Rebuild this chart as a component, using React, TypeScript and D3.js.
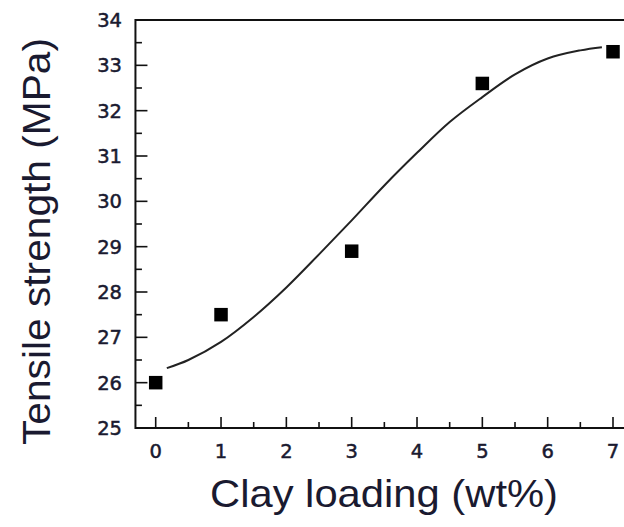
import React from "react";
import * as d3 from "d3";

// Measured tensile strength vs. clay loading
const clayLoading = [0, 1, 3, 5, 7];
const tensileStrength = [26.0, 27.5, 28.9, 32.6, 33.3];

// Fitted sigmoidal trend line
const fitX = [0.17, 0.5, 1, 1.5, 2, 2.5, 3, 3.5, 4, 4.5, 5, 5.5, 6, 6.5, 6.83];
const fitY = [26.32, 26.5, 26.9, 27.45, 28.1, 28.83, 29.58, 30.35, 31.07, 31.75, 32.3, 32.8, 33.15, 33.33, 33.4];

const xTicks = [0, 1, 2, 3, 4, 5, 6, 7];
const yTicks = [25, 26, 27, 28, 29, 30, 31, 32, 33, 34];

const W = 624;
const H = 527;

export default function App() {
  const x = d3.scaleLinear().domain([0, 7]).range([155.7, 613]);
  const y = d3.scaleLinear().domain([25, 34]).range([428, 20]);

  const left = x(-0.31);
  const right = x(7.6);
  const top = y(34);
  const bottom = y(25);

  const xMinor = d3.range(0.5, 7.6, 1);
  const yMinor = d3.range(25.5, 34, 1);

  const line = d3
    .line<number>()
    .x((_, i) => x(fitX[i]))
    .y((d) => y(d))
    .curve(d3.curveCatmullRom.alpha(0.5));

  const sq = 13.5;
  const tickFont = "'DejaVu Sans', sans-serif";
  const titleFont = "'Liberation Sans', Arial, sans-serif";
  const ink = "#111";
  const textInk = "#1a1a30";

  return (
    <svg
      width={W}
      height={H}
      viewBox={`0 0 ${W} ${H}`}
      style={{ position: "absolute", left: 0, top: 0, background: "#fff" }}
    >
      {/* fitted curve */}
      <path d={line(fitY) ?? ""} fill="none" stroke="#222" strokeWidth={2} />

      {/* data markers */}
      {clayLoading.map((c, i) => (
        <rect
          key={c}
          x={x(c) - sq / 2}
          y={y(tensileStrength[i]) - sq / 2}
          width={sq}
          height={sq}
          fill="#000"
        />
      ))}

      {/* frame */}
      <line x1={left} x2={right} y1={top} y2={top} stroke={ink} strokeWidth={2} />
      <line x1={left} x2={right} y1={bottom} y2={bottom} stroke={ink} strokeWidth={2} />
      <line x1={left} x2={left} y1={top - 1} y2={bottom + 1} stroke={ink} strokeWidth={2} />

      {/* x ticks */}
      {xTicks.map((t) => (
        <line key={`xt${t}`} x1={x(t)} x2={x(t)} y1={bottom} y2={bottom - 11} stroke={ink} strokeWidth={1.6} />
      ))}
      {xMinor.map((t) => (
        <line key={`xm${t}`} x1={x(t)} x2={x(t)} y1={bottom} y2={bottom - 6} stroke={ink} strokeWidth={1.6} />
      ))}
      {xTicks.map((t) => (
        <text
          key={`xl${t}`}
          x={x(t)}
          y={458}
          textAnchor="middle"
          fontFamily={tickFont}
          fontSize={19.5}
          fill={textInk}
          stroke={textInk}
          strokeWidth={0.5}
        >
          {t}
        </text>
      ))}

      {/* y ticks */}
      {yTicks.map((t) => (
        <line key={`yt${t}`} x1={left} x2={left + 12} y1={y(t)} y2={y(t)} stroke={ink} strokeWidth={1.6} />
      ))}
      {yMinor.map((t) => (
        <line key={`ym${t}`} x1={left} x2={left + 6.5} y1={y(t)} y2={y(t)} stroke={ink} strokeWidth={1.6} />
      ))}
      {yTicks.map((t) => (
        <text
          key={`yl${t}`}
          x={122}
          y={y(t)}
          dy="0.36em"
          textAnchor="end"
          fontFamily={tickFont}
          fontSize={19.5}
          fill={textInk}
          stroke={textInk}
          strokeWidth={0.5}
        >
          {t}
        </text>
      ))}

      {/* axis titles */}
      <text
        x={384}
        y={507}
        textAnchor="middle"
        fontFamily={titleFont}
        fontSize={39}
        fill={textInk}
        textLength={348}
        lengthAdjust="spacingAndGlyphs"
      >
        Clay loading (wt%)
      </text>
      <text
        transform="translate(50,241.5) rotate(-90)"
        textAnchor="middle"
        fontFamily={titleFont}
        fontSize={39}
        fill={textInk}
        textLength={407}
        lengthAdjust="spacingAndGlyphs"
      >
        Tensile strength (MPa)
      </text>
    </svg>
  );
}
